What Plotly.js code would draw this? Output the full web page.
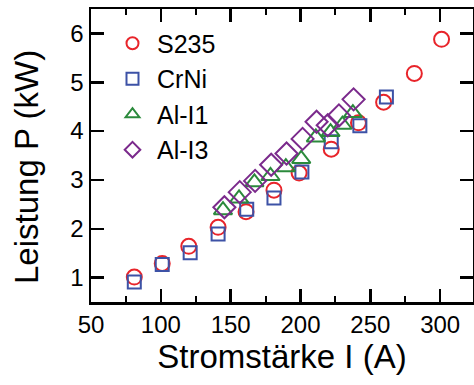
<!DOCTYPE html>
<html>
<head>
<meta charset="utf-8">
<script src="https://cdn.plot.ly/plotly-3.0.1.min.js"></script>
<style>
  html, body { margin: 0; padding: 0; background: #fff; }
  #chart { width: 474px; height: 385px; }
</style>
</head>
<body>
<div id="chart"></div>
<script>
// Welding current vs. power for the four materials
const s235Current = [81, 101, 120, 141, 161, 181, 199, 222, 241.5, 259.5, 281.5, 301];
const s235Power   = [1.01, 1.29, 1.64, 2.03, 2.35, 2.79, 3.14, 3.63, 4.17, 4.59, 5.18, 5.88];

const crniCurrent = [81, 101, 121, 141, 161.5, 181, 201, 222, 242.5, 261.5];
const crniPower   = [0.91, 1.27, 1.51, 1.89, 2.40, 2.63, 3.16, 3.78, 4.11, 4.70];

const al1Current = [144.5, 156, 167, 178.5, 189.5, 200.5, 211, 221.5, 230, 237.5];
const al1Power   = [2.38, 2.62, 2.95, 3.08, 3.26, 3.43, 3.87, 3.98, 4.13, 4.37];

const al3Current = [145.5, 156.5, 167.5, 179, 190, 201.5, 211.5, 219.5, 227.5, 238];
const al3Power   = [2.44, 2.75, 2.98, 3.31, 3.54, 3.84, 4.19, 4.12, 4.32, 4.65];

const seriesNames = ['S235', 'CrNi', 'Al-I1', 'Al-I3'];
const xTicks = [50, 100, 150, 200, 250, 300];
const xMinorTicks = [75, 125, 175, 225, 275];
const yTicks = [1, 2, 3, 4, 5, 6];

const font = 'Liberation Sans, Arial, sans-serif';

// open symbols take their outline colour from marker.color
function series(name, x, y, symbol, color, size) {
  return {
    type: 'scatter', mode: 'markers', name: name, x: x, y: y,
    marker: { symbol: symbol, size: size, color: color, line: { width: 2 } },
    cliponaxis: false
  };
}

const traces = [
  series(seriesNames[0], s235Current, s235Power, 'circle-open', '#e8242a', 15),
  series(seriesNames[1], crniCurrent, crniPower, 'square-open', '#3d52a6', 13),
  series(seriesNames[2], al1Current, al1Power, 'triangle-up-open', '#2b8a3c', 16),
  series(seriesNames[3], al3Current, al3Power, 'diamond-open', '#7b2a8c', 17)
];

const axisCommon = {
  showline: true, linecolor: '#000', linewidth: 2.5, mirror: 'allticks',
  ticks: 'inside', ticklen: 13, tickwidth: 2.5, tickcolor: '#000',
  showgrid: false, zeroline: false,
  tickfont: { family: font, size: 24, color: '#000' }
};

const layout = {
  width: 474, height: 385,
  margin: { l: 91, r: 1, t: 9, b: 83 },
  paper_bgcolor: '#fff', plot_bgcolor: '#fff',
  showlegend: true,
  legend: {
    x: 0.0445, y: 0.961, xanchor: 'left', yanchor: 'top',
    bgcolor: 'rgba(0,0,0,0)', borderwidth: 0,
    font: { family: font, size: 25, color: '#000' },
    itemwidth: 39, itemsizing: 'constant', tracegroupgap: 0
  },
  xaxis: Object.assign({}, axisCommon, {
    range: [50, 323.5], tickvals: xTicks,
    minor: { tickvals: xMinorTicks, ticks: 'inside', ticklen: 6, tickwidth: 2, tickcolor: '#000' },
    title: { text: 'Stromstärke I (A)', font: { family: font, size: 33, color: '#000' }, standoff: 8 }
  }),
  yaxis: Object.assign({}, axisCommon, {
    range: [0.5, 6.5], tickvals: yTicks
  }),
  annotations: [{
    text: 'Leistung P (kW)', textangle: -90, showarrow: false,
    xref: 'paper', yref: 'paper', x: -0.1675, y: 0.4608,
    xanchor: 'center', yanchor: 'middle',
    font: { family: font, size: 33, color: '#000' }
  }]
};

Plotly.newPlot('chart', traces, layout, { displayModeBar: false, staticPlot: true });
</script>
</body>
</html>
